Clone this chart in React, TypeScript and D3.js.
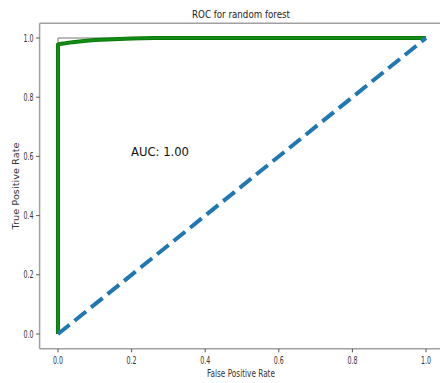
import React from 'react'
import * as d3 from 'd3'

// ROC curve
const fpr = [0, 0, 0.005, 0.02, 0.04, 0.07, 0.1, 0.15, 0.2, 0.26, 0.5, 1]
const tpr = [0, 0.978, 0.98, 0.982, 0.986, 0.99, 0.993, 0.996, 0.998, 1, 1, 1]
const perfectX = [0, 0, 1]
const perfectY = [0, 1, 1]
const chanceX = [0, 1]
const chanceY = [0, 1]
const xTicks = [0, 0.2, 0.4, 0.6, 0.8, 1.0]
const yTicks = [0, 0.2, 0.4, 0.6, 0.8, 1.0]
const aucText = 'AUC: 1.00'

const W = 440
const H = 383
const font = "'DejaVu Sans', sans-serif"

const App = () => {
  const x = d3.scaleLinear().domain([-0.05, 1.05]).range([39.6, 444.4])
  const y = d3.scaleLinear().domain([-0.05, 1.05]).range([348.8, 23.2])

  const line = (xs: number[], ys: number[]) =>
    d3.line<number>().x((_, i) => x(xs[i])).y((_, i) => y(ys[i]))(xs.map((_, i) => i)) || ''

  const spine = '#a0a0a0'
  const [x0] = x.range()
  const [yb, yt] = y.range()

  // the picture is squeezed sideways, so text is stretched to measured widths
  return (
    <svg width={W} height={H} style={{ position: 'absolute', left: 0, top: 0, background: '#fff' }}
      fontFamily={font}>
      <text x={241} y={18} textAnchor="middle" fontSize={11} fill="#222"
        textLength={98} lengthAdjust="spacingAndGlyphs">ROC for random forest</text>

      <path d={line(perfectX, perfectY)} fill="none" stroke="#777" strokeWidth={1} />
      <path d={line(fpr, tpr)} fill="none" stroke="#0a7a0a" strokeWidth={4} strokeLinejoin="round" />
      <path d={line(fpr, tpr)} fill="none" stroke="#128c12" strokeWidth={2} strokeLinejoin="round" />
      <path d={line(chanceX, chanceY)} fill="none" stroke="#1f77b4" strokeWidth={4}
        strokeDasharray="14.8,6.4" />

      <text x={131} y={156} fontSize={12.5} fill="#111"
        textLength={58} lengthAdjust="spacingAndGlyphs">{aucText}</text>

      {/* spines */}
      <line x1={x0} x2={W} y1={yt} y2={yt} stroke={spine} strokeWidth={1.5} />
      <line x1={x0} x2={W} y1={yb} y2={yb} stroke={spine} strokeWidth={1.5} />
      <line x1={x0} x2={x0} y1={yt} y2={yb} stroke={spine} strokeWidth={1.5} />

      {xTicks.map(t => (
        <g key={'x' + t} transform={`translate(${x(t)},${yb})`}>
          <line y1={0} y2={3.5} stroke="#555" />
          <text y={15} textAnchor="middle" fontSize={10} fill="#333"
            textLength={10} lengthAdjust="spacingAndGlyphs">{t.toFixed(1)}</text>
        </g>
      ))}
      {yTicks.map(t => (
        <g key={'y' + t} transform={`translate(${x0},${y(t)})`}>
          <line x1={0} x2={-3.5} stroke="#555" />
          <text x={-6} dy="0.36em" textAnchor="end" fontSize={10} fill="#333"
            textLength={10} lengthAdjust="spacingAndGlyphs">{t.toFixed(1)}</text>
        </g>
      ))}

      <text x={241} y={377} textAnchor="middle" fontSize={10} fill="#333"
        textLength={68} lengthAdjust="spacingAndGlyphs">False Positive Rate</text>
      <text transform={`translate(18.5,186) rotate(-90)`} textAnchor="middle" fontSize={9.5}
        fill="#333" textLength={87} lengthAdjust="spacingAndGlyphs">True Positive Rate</text>
    </svg>
  )
}

export default App
